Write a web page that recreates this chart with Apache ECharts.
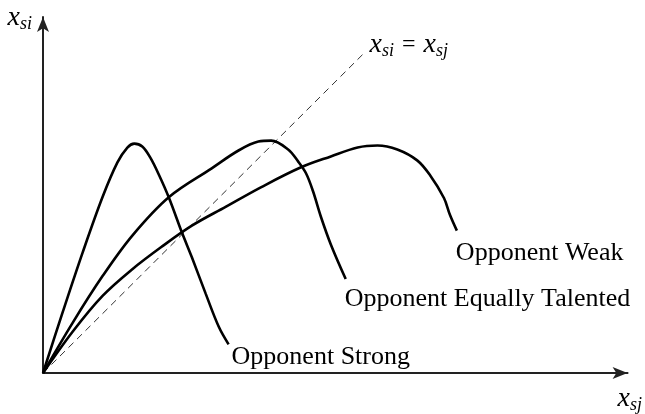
<!DOCTYPE html>
<html>
<head>
<meta charset="utf-8">
<script src="https://cdn.jsdelivr.net/npm/echarts@6/dist/echarts.min.js"></script>
<style>
  html, body { margin: 0; padding: 0; background: #fff; }
  #chart { width: 645px; height: 414px; }
</style>
</head>
<body>
<div id="chart"></div>
<script>
// curves (x_sj, x_si), arbitrary units
const strongX = [0, 20, 40, 60, 75, 85, 92, 100, 108, 117, 127, 140, 150, 164, 177, 187];
const strongY = [0, 62, 122, 178, 213, 228, 232, 229, 218, 200, 177, 142, 117, 80, 47, 29];

const equalX = [0, 30, 60, 90, 127, 170, 197, 217, 230, 247, 257, 265, 272, 280, 290, 305];
const equalY = [0, 51, 98, 139, 178, 207, 225, 234, 235, 226, 214, 202, 184, 158, 130, 95];

const weakX = [0, 30, 60, 90, 120, 150, 184, 220, 260, 290, 317, 337, 357, 377, 390, 404, 410, 417];
const weakY = [0, 42, 78, 105, 128, 149, 168, 188, 208, 219, 228, 230, 226, 215, 200, 177, 160, 144];

const diagX = [0, 324];
const diagY = [0, 324];

const labels = ["Opponent Strong", "Opponent Equally Talented", "Opponent Weak"];

const font = "'Liberation Serif', 'Times New Roman', serif";

const pairs = (xs, ys) => xs.map((x, i) => [x, ys[i]]);

const mathRich = {
  x: { fontFamily: font, fontStyle: "italic", fontSize: 28, color: "#000" },
  s: { fontFamily: font, fontStyle: "italic", fontSize: 18, color: "#000", padding: [13, 0, 0, 0] },
  eq: { fontFamily: font, fontSize: 24, color: "#000", padding: [0, 8, 0, 8] },
};

function curve(xs, ys, text, dx, dy) {
  return {
    type: "line",
    data: pairs(xs, ys),
    smooth: 0.35,
    showSymbol: false,
    silent: true,
    lineStyle: { color: "#000", width: 2.6 },
    endLabel: {
      show: true,
      formatter: text,
      distance: 0,
      offset: [dx, dy],
      fontFamily: font,
      fontSize: 26,
      color: "#000",
    },
  };
}

const chart = echarts.init(document.getElementById("chart"));

const axisLine = {
  show: true,
  symbol: ["none", "arrow"],
  symbolSize: [9, 15],
  lineStyle: { color: "#222", width: 2 },
};

const option = {
  animation: false,
  grid: { left: 43, right: 13, top: 17, bottom: 37, containLabel: false },
  xAxis: {
    type: "value",
    min: 0,
    max: 589,
    axisLine: axisLine,
    axisTick: { show: false },
    axisLabel: { show: false },
    splitLine: { show: false },
    name: "{x|x}{s|sj}",
    nameLocation: "end",
    nameGap: -10,
    nameTextStyle: { align: "left", verticalAlign: "top", padding: [10, 0, 0, 0], rich: mathRich },
  },
  yAxis: {
    type: "value",
    min: 0,
    max: 360,
    axisLine: axisLine,
    axisTick: { show: false },
    axisLabel: { show: false },
    splitLine: { show: false },
    name: "{x|x}{s|si}",
    nameLocation: "end",
    nameGap: -1,
    nameTextStyle: { align: "right", verticalAlign: "middle", padding: [0, 11, 0, 0], rich: mathRich },
  },
  series: [
    {
      type: "line",
      data: pairs(diagX, diagY),
      showSymbol: false,
      silent: true,
      lineStyle: { color: "#333", width: 1, type: [7, 5] },
      endLabel: {
        show: true,
        formatter: "{x|x}{s|si}{eq|=}{x|x}{s|sj}",
        distance: 5,
        offset: [0, -8],
        rich: mathRich,
      },
    },
    curve(strongX, strongY, labels[0], 3, 13),
    curve(equalX, equalY, labels[1], -1, 20),
    curve(weakX, weakY, labels[2], -1, 23),
  ],
};

chart.setOption(option);
</script>
</body>
</html>
